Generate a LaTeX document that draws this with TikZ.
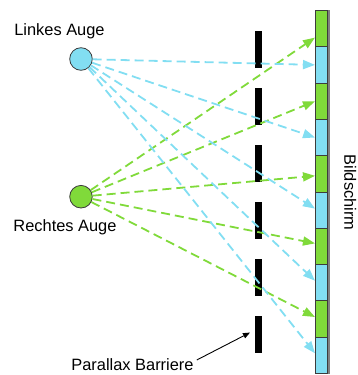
\documentclass[tikz,border=0pt]{standalone}
\usepackage{fontspec}
\setmainfont{Liberation Sans}
\usetikzlibrary{arrows.meta}
\definecolor{eyeblue}{RGB}{130,222,242}
\definecolor{eyegreen}{RGB}{128,218,58}
\definecolor{rimgray}{RGB}{60,60,60}
\tikzset{
  lbl/.style={font=\fontsize{16.4}{19}\selectfont, inner sep=0pt},
  eyenode/.style={circle, draw=rimgray, line width=0.8pt, minimum size=22.6pt, inner sep=0pt},
  barrier/.style={fill=black, minimum width=7pt, minimum height=36.7pt, inner sep=0pt, anchor=north west},
  pixel/.style={draw=rimgray, line width=0.9pt, minimum width=12pt, minimum height=36.3pt, inner sep=0pt, anchor=north west},
  ray/.style={dash pattern=on 9pt off 5pt, line width=1.8pt, -{Triangle[length=12pt,width=9pt]}},
  bluray/.style={ray, eyeblue},
  greenray/.style={ray, eyegreen},
  pointer/.style={black, line width=0.9pt, -{Triangle[length=7pt,width=5.5pt]}}
}
\begin{document}
\begin{tikzpicture}[x=1pt,y=-1pt]
\useasboundingbox (0,0) rectangle (357,375);

% eyes
\node[eyenode, fill=eyeblue] (le) at (81,59) {};
\node[eyenode, fill=eyegreen] (re) at (81,196.7) {};
\node[lbl] (lel) at (59.5,31) {Linkes Auge};
\node[lbl] (rel) at (65,227.5) {Rechtes Auge};

% parallax barrier
\foreach \i/\y in {1/31,2/88,3/145,4/202,5/259,6/316}
  \node[barrier] (b\i) at (255,\y) {};

% screen: alternating green and blue pixel columns
\foreach \i in {0,...,4} {
  \node[pixel, fill=eyegreen] (g\i) at (315,{10+72.6*\i}) {};
  \node[pixel, fill=eyeblue]  (p\i) at (315,{46.3+72.6*\i}) {};
}
\draw[gray, line width=1.2pt] (g0.north east) ++(1pt,0) -- ([xshift=1pt]p4.south east);
\node[lbl, rotate=-90] (scr) at (350.3,192.5) {Bildschirm};

% rays of the right eye to the green columns
\draw[greenray] (re) -- ([yshift=-9pt]g0.west);
\draw[greenray] (re) -- (g1.west);
\draw[greenray] (re) -- ([yshift=-2pt]g2.west);
\draw[greenray] (re) -- ([yshift=3pt]g3.west);
\draw[greenray] (re) -- ([yshift=2pt]g4.west);

% rays of the left eye to the blue columns
\draw[bluray] (le) -- (p0.west);
\draw[bluray] (le) -- (p1.west);
\draw[bluray] (le) -- ([yshift=1.5pt]p2.west);
\draw[bluray] (le) -- ([yshift=2pt]p3.west);
\draw[bluray] (le) -- ([yshift=2pt]p4.west);

% barrier label
\node[lbl] (pb) at (132.5,365) {Parallax Barriere};
\draw[pointer] ([xshift=3pt,yshift=5pt]pb.east) -- ([xshift=-5pt,yshift=2pt]b6.west);
\end{tikzpicture}
\end{document}
